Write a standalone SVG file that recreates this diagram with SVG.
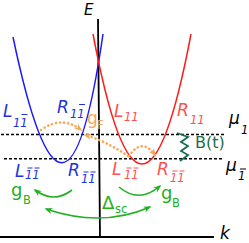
<svg xmlns="http://www.w3.org/2000/svg" width="249" height="243" viewBox="0 0 249 243">
<style>
text{font-family:"DejaVu Sans","Liberation Sans",sans-serif}
.it{font-style:italic}
.m{font-size:17px}
.s{font-size:11.5px}
.blue{fill:#2233dd}
.red{fill:#ff5050}
.orange{fill:#f5a857}
.green{fill:#22b022}
.dg{fill:#1a6e50}
.bk{fill:#000}
.bb{stroke:#2233dd;stroke-width:1}
.rb{stroke:#ff5050;stroke-width:1}
.kb{stroke:#000;stroke-width:1}
.dash{stroke:#000;stroke-width:1.4;stroke-dasharray:3 2;fill:none}
.dot{stroke:#f5a857;stroke-width:2.6;stroke-dasharray:0.1 4;stroke-linecap:round;fill:none}
.garc{stroke:#22b022;stroke-width:1.6;fill:none}
</style>
<defs>
<marker id="ag" viewBox="0 0 10 10" refX="8" refY="5" markerUnits="userSpaceOnUse" markerWidth="8" markerHeight="8" orient="auto-start-reverse"><path d="M0,1 L10,5 L0,9 L3,5 z" fill="#22b022"/></marker>
<marker id="ao" viewBox="0 0 10 10" refX="8" refY="5" markerUnits="userSpaceOnUse" markerWidth="8" markerHeight="8" orient="auto-start-reverse"><path d="M0,1 L10,5 L0,9 L3,5 z" fill="#f5a857"/></marker>
</defs>

<g id="axes">
<line x1="98" y1="19" x2="100" y2="237" stroke="#000" stroke-width="1.8"/>
<line x1="0" y1="237" x2="214" y2="237" stroke="#000" stroke-width="1.8"/>
<text class="it bk" x="84" y="14.5" font-size="15">E</text>
<text class="it bk" x="220" y="239" font-size="17">k</text>
</g>

<g id="levels">
<line class="dash" x1="1" y1="134.5" x2="224" y2="134.5"/>
<line class="dash" x1="4" y1="158.8" x2="223" y2="158.8"/>
<g id="mu1">
<text class="it bk m" x="229" y="124">μ</text>
<text class="it bk s" x="241" y="134">1</text>
</g>
<g id="mu1bar">
<text class="it bk m" x="226" y="171">μ</text>
<text class="it bk s" x="238" y="180">1</text>
<line class="kb" x1="240" y1="169" x2="246" y2="169"/>
</g>
</g>

<g id="blue-band">
<path d="M13,37 Q66,290 103,34" fill="none" stroke="#1a1aff" stroke-width="1.5"/>
</g>
<g id="red-band">
<path d="M93,34 Q142,294 191,34" fill="none" stroke="#ff1a1a" stroke-width="1.5"/>
</g>

<g id="label-L11bar-top">
<text class="it blue m" x="3" y="117">L</text>
<text class="it blue s" x="13" y="127">11</text>
<line class="bb" x1="21.5" y1="114.5" x2="27.5" y2="114.5"/>
</g>
<g id="label-R11bar-top">
<text class="it blue m" x="57" y="113">R</text>
<text class="it blue s" x="70" y="118">11</text>
<line class="bb" x1="79" y1="104.5" x2="85" y2="104.5"/>
</g>
<g id="label-L11-red">
<text class="it red m" x="114" y="117">L</text>
<text class="it red s" x="124" y="121">11</text>
</g>
<g id="label-R11-red">
<text class="it red m" x="177" y="116">R</text>
<text class="it red s" x="190" y="124">11</text>
</g>
<g id="label-Lbb-blue">
<text class="it blue m" x="15" y="176.5">L</text>
<text class="it blue s" x="25" y="179">11</text>
<line class="bb" x1="27.5" y1="168" x2="32.5" y2="168"/>
<line class="bb" x1="34.5" y1="168" x2="39.5" y2="168"/>
</g>
<g id="label-Rbb-blue">
<text class="it blue m" x="68" y="176">R</text>
<text class="it blue s" x="81" y="183">11</text>
<line class="bb" x1="83.5" y1="172" x2="88.5" y2="172"/>
<line class="bb" x1="90.5" y1="172" x2="95.5" y2="172"/>
</g>
<g id="label-Lbb-red">
<text class="it red m" x="112" y="175">L</text>
<text class="it red s" x="124" y="179">11</text>
<line class="rb" x1="126.5" y1="168" x2="131.5" y2="168"/>
<line class="rb" x1="133.5" y1="168" x2="138.5" y2="168"/>
</g>
<g id="label-Rbb-red">
<text class="it red m" x="157" y="175">R</text>
<text class="it red s" x="170" y="182">11</text>
<line class="rb" x1="172.5" y1="171" x2="177.5" y2="171"/>
<line class="rb" x1="179.5" y1="171" x2="184.5" y2="171"/>
</g>

<g id="connectors">
<path class="dot" d="M41,130 Q62,115 81,130" marker-end="url(#ao)"/>
<path class="dot" d="M128,156 Q106,141 85,135" marker-end="url(#ao)"/>
<path class="dot" d="M129,156 Q142,137 155,155" marker-end="url(#ao)"/>
<path class="garc" d="M72,190 Q54,204 35,190" marker-end="url(#ag)"/>
<path class="garc" d="M119,187 Q139,204 160,186" marker-end="url(#ag)"/>
<path class="garc" d="M46,209 Q102,228 150,207" marker-start="url(#ag)" marker-end="url(#ag)"/>
<polyline points="177,133 188,137 181,142 188,146 181,151 188,155 180,161" fill="none" stroke="#1a6e50" stroke-width="1.8"/>
</g>

<g id="label-gF">
<text class="orange" x="87" y="124" font-size="17">g</text>
<text class="orange s" x="97" y="129">F</text>
</g>
<g id="label-gB-left">
<text class="green" x="11" y="196" font-size="18">g</text>
<text class="green s" x="23" y="204">B</text>
</g>
<g id="label-gB-right">
<text class="green" x="161" y="199" font-size="18">g</text>
<text class="green s" x="172" y="207">B</text>
</g>
<g id="label-Dsc">
<text class="green" x="102" y="209" font-size="18">Δ</text>
<text class="green s" x="115" y="213">sc</text>
</g>
<g id="label-Bt">
<text class="dg" x="195" y="148" font-size="16">B(t)</text>
</g>
</svg>
